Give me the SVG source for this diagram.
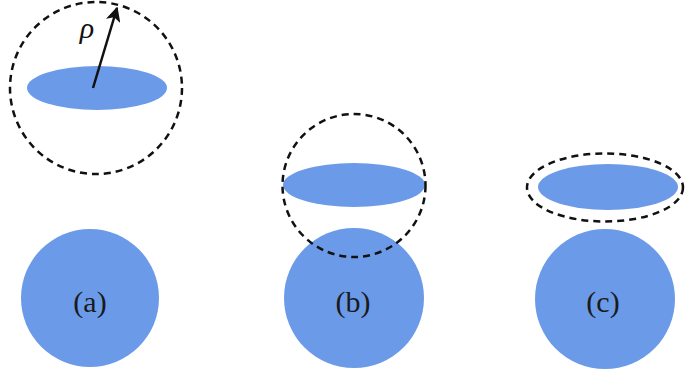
<svg xmlns="http://www.w3.org/2000/svg" width="685" height="371" viewBox="0 0 685 371">
<defs>
<style>
.blob{fill:#6b9be8;}
.dash{fill:none;stroke:#111;stroke-width:2.5;stroke-dasharray:7 5;}
.lbl{font-family:"Liberation Serif",serif;font-size:30px;fill:#1a1a1a;text-anchor:middle;}
</style>
<marker id="ah" viewBox="0 0 10 10" refX="9" refY="5" markerWidth="6" markerHeight="6" orient="auto" markerUnits="strokeWidth">
<path d="M0,0 L10,5 L0,10 L2.5,5 Z" fill="#111"/>
</marker>
</defs>
<rect width="685" height="371" fill="#fff"/>
<g id="panel-a">
<ellipse class="blob" cx="97" cy="88" rx="70" ry="22"/>
<circle class="blob" cx="90" cy="298" r="69"/>
<circle class="dash" cx="96" cy="88" r="86"/>
<text class="lbl" x="90" y="312">(a)</text>
</g>
<g id="panel-b">
<ellipse class="blob" cx="354" cy="185" rx="71" ry="22"/>
<circle class="blob" cx="354" cy="298" r="70"/>
<circle class="dash" cx="354" cy="185.5" r="71.5"/>
<text class="lbl" x="353" y="312">(b)</text>
</g>
<g id="panel-c">
<ellipse class="blob" cx="608" cy="187" rx="70" ry="23"/>
<circle class="blob" cx="605" cy="299" r="70"/>
<ellipse class="dash" cx="605" cy="187.5" rx="78" ry="34"/>
<text class="lbl" x="603" y="312">(c)</text>
</g>
<g id="connectors">
<line x1="93" y1="88" x2="117" y2="8" stroke="#111" stroke-width="2.5" marker-end="url(#ah)"/>
<text x="87" y="38" font-family="Liberation Serif, serif" font-style="italic" font-size="30" fill="#111" text-anchor="middle">ρ</text>
</g>
</svg>
